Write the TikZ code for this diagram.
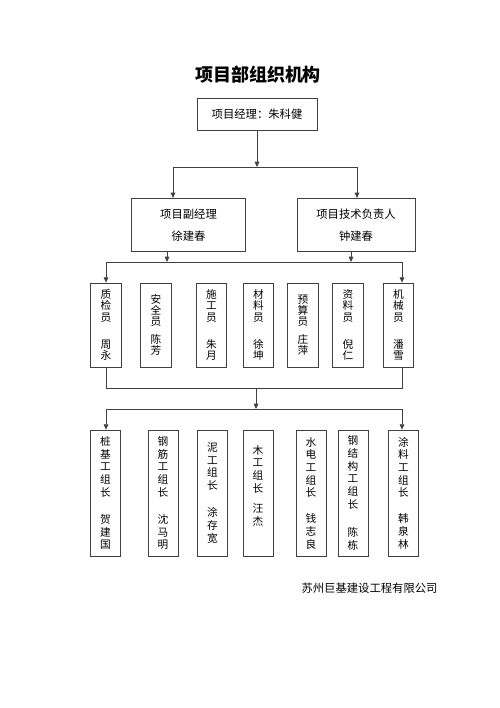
\documentclass[tikz,border=0pt]{standalone}
\usepackage{fontspec}
\setmainfont{Noto Sans CJK SC}
\usetikzlibrary{arrows.meta,positioning}
\tikzset{
    %Define standard arrow tip
    >={Triangle[length=4pt,width=3.5pt]},
    %Line colour for boxes and connectors
    linie/.style={draw=black!75, line width=0.6pt},
    %Define style for the upper boxes
    chef/.style={
           rectangle,
           linie,
           align=center,
           font=\fontsize{8.5}{16.5}\selectfont},
    %Define style for the vertical staff boxes
    stab/.style={
           rectangle,
           linie,
           inner sep=0pt,
           minimum width=23pt,
           minimum height=63pt,
           align=center,
           font=\fontsize{8}{8.3}\selectfont},
    gruppe/.style={
           stab,
           minimum width=22.5pt,
           minimum height=94.5pt,
           font=\fontsize{8}{9.5}\selectfont},
    % Define arrow style
    pil/.style={->, linie}
}
\begin{document}
\begin{tikzpicture}[x=0.75pt, y=-0.75pt]
  \useasboundingbox (0,0) rectangle (500,708);
  \node[font=\fontsize{13.5}{16}\selectfont\bfseries] (titel) at (258,75) {项目部组织机构};
  % management
  \node[chef, minimum width=90pt, minimum height=24pt] (pm) at (257,114) {项目经理：朱科健};
  \node[chef, minimum width=86pt, minimum height=40pt] (vpm) at (188.5,225) {项目副经理\\徐建春};
  \node[chef, minimum width=88.5pt, minimum height=40pt] (tech) at (356,225) {项目技术负责人\\钟建春};
  % staff
  \foreach \x/\n/\t in {
      106/zhijian/{质\\检\\员\\[12pt]周\\永},
      156/anquan/{安\\全\\员\\[5pt]陈\\芳},
      211.5/shigong/{施\\工\\员\\[12pt]朱\\月},
      258.5/cailiao/{材\\料\\员\\[12pt]徐\\坤},
      303/yusuan/{预\\算\\员\\[5pt]庄\\萍},
      348/ziliao/{资\\料\\员\\[12pt]倪\\仁},
      398.5/jixie/{机\\械\\员\\[12pt]潘\\雪}}
    \node[stab] (\n) at (\x,325) {\t};
  % work groups
  \foreach \x/\n/\t in {
      105.5/zhuangji/{桩\\基\\工\\组\\长\\[11pt]贺\\建\\国},
      163/gangjin/{钢\\筋\\工\\组\\长\\[11pt]沈\\马\\明},
      212.5/nigong/{泥\\工\\组\\长\\[11pt]涂\\存\\宽},
      258/mugong/{木\\工\\组\\长\\[6pt]汪\\杰\\[2pt]\mbox{}},
      311/shuidian/{水\\电\\工\\组\\长\\[10pt]钱\\志\\良},
      353/gangjie/{钢\\结\\构\\工\\组\\长\\[12pt]陈\\栋},
      403.5/tuliao/{涂\\料\\工\\组\\长\\[10pt]韩\\泉\\林}}
    \node[gruppe] (\n) at (\x,493) {\t};
  \node[font=\fontsize{8.5}{10}\selectfont] (firma) at (369.5,588) {苏州巨基建设工程有限公司};
  % junction points
  \coordinate (a) at (257,167);
  \coordinate (al) at (173,167);
  \coordinate (ar) at (357,167);
  \coordinate (bl) at (106,262);
  \coordinate (bv) at (167,262);
  \coordinate (bt) at (351,262);
  \coordinate (br) at (402,262);
  \coordinate (cl) at (106,388);
  \coordinate (cm) at (256,388);
  \coordinate (cr) at (402,388);
  \coordinate (dl) at (106,409);
  \coordinate (dm) at (256,409);
  \coordinate (dr) at (402,409);
  % connectors
  \draw[pil] (pm) -- (a);
  \draw[linie] (al) -- (ar);
  \draw[pil] (al) -- (al |- vpm.north);
  \draw[pil] (ar) -- (ar |- tech.north);
  \draw[pil] (bv |- vpm.south) -- (bv);
  \draw[pil] (bt |- tech.south) -- (bt);
  \draw[linie] (bl) -- (br);
  \draw[pil] (bl) -- (bl |- zhijian.north);
  \draw[pil] (br) -- (br |- jixie.north);
  \draw[linie] (cl |- zhijian.south) -- (cl) -- (cr) -- (cr |- jixie.south);
  \draw[pil] (cm) -- (dm);
  \draw[linie] (dl) -- (dr);
  \draw[pil] (dl) -- (dl |- zhuangji.north);
  \draw[pil] (dr) -- (dr |- tuliao.north);
\end{tikzpicture}
\end{document}
